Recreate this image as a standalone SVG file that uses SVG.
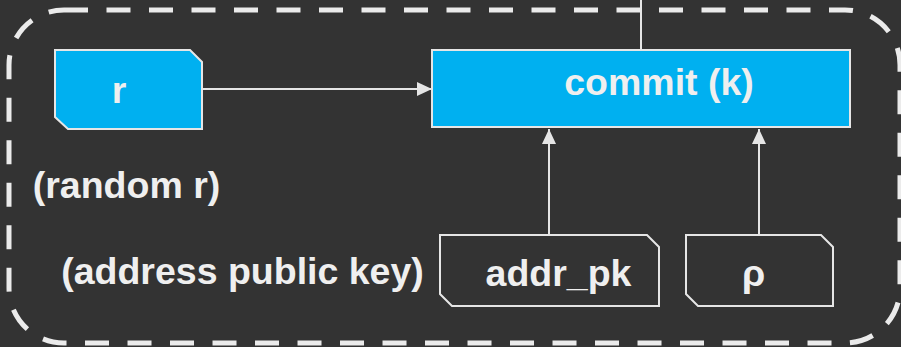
<svg xmlns="http://www.w3.org/2000/svg" width="901" height="347" viewBox="0 0 901 347">
<defs>
<style>
.bg{fill:#333333}
.frame{fill:none;stroke:#ebebeb;stroke-width:5;stroke-dasharray:24 18.5}
.blue{fill:#00b0f0;stroke:#e6e6e6;stroke-width:2}
.dark{fill:none;stroke:#e6e6e6;stroke-width:2}
.edge{fill:none;stroke:#e6e6e6;stroke-width:2}
text{font-family:"Liberation Sans",Arial,sans-serif;font-weight:bold;font-size:37.5px;fill:#efefef}
</style>
<marker id="arr" viewBox="0 0 15 14" refX="15" refY="7" markerWidth="15" markerHeight="14" markerUnits="userSpaceOnUse" orient="auto">
<path d="M0,0 L15,7 L0,14 Z" fill="#e6e6e6"/>
</marker>
</defs>
<rect class="bg" x="0" y="0" width="901" height="347"/>
<rect class="frame" x="9" y="10" width="891" height="333" rx="55" ry="55"/>
<g id="connectors">
<line class="edge" x1="641" y1="0" x2="641" y2="50"/>
<line class="edge" x1="202" y1="89" x2="432" y2="89" marker-end="url(#arr)"/>
<line class="edge" x1="549" y1="235" x2="549" y2="129" marker-end="url(#arr)"/>
<line class="edge" x1="759" y1="235" x2="759" y2="129" marker-end="url(#arr)"/>
</g>
<g id="node-r">
<polygon class="blue" points="55,50 190,50 202,62 202,129 68,129 55,117"/>
<text x="119" y="103" text-anchor="middle">r</text>
</g>
<g id="node-commit">
<rect class="blue" x="432" y="50" width="418" height="77"/>
<text x="659" y="95" text-anchor="middle">commit (k)</text>
</g>
<g id="label-random">
<text x="126.5" y="198" text-anchor="middle">(random r)</text>
</g>
<g id="label-address">
<text x="242.5" y="284" text-anchor="middle">(address public key)</text>
</g>
<g id="node-addr_pk">
<polygon class="dark" points="440,235 647,235 659,247 659,306 452,306 440,294"/>
<text x="558.5" y="286" text-anchor="middle">addr_pk</text>
</g>
<g id="node-rho">
<polygon class="dark" points="686,235 821,235 833,247 833,306 698,306 686,294"/>
<text x="753.5" y="286" text-anchor="middle">ρ</text>
</g>
</svg>
